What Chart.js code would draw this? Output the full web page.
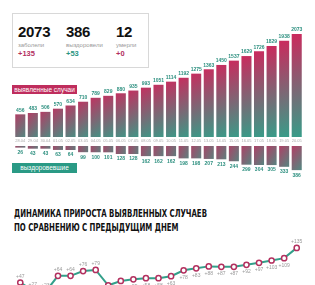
<!DOCTYPE html>
<html lang="ru">
<head>
<meta charset="UTF-8">
<title>Covid</title>
<script src="https://cdn.jsdelivr.net/npm/chart.js@4.4.0/dist/chart.umd.min.js"></script>
<style>
  body { margin:0; width:315px; height:285px; overflow:hidden; background:#fff; position:relative; font-family:"Liberation Sans", Arial, sans-serif; }
  canvas { position:absolute; left:0; }
  .card { position:absolute; left:12px; top:13px; width:135px; height:53px; border:1px solid #d8d8d8; }
  .num { position:absolute; top:9px; font-size:15px; font-weight:bold; color:#111; letter-spacing:-0.3px; }
  .lbl { position:absolute; top:28px; font-size:6px; color:#999; }
  .dlt { position:absolute; top:35px; font-size:7.5px; font-weight:bold; }
  .tag { position:absolute; left:12px; width:65px; color:#fff; font-size:6.5px; text-align:center; }
  .title { position:absolute; left:14px; top:207px; white-space:nowrap; font-family:"DejaVu Sans Condensed","Liberation Sans Narrow",sans-serif; font-weight:bold; font-size:10px; line-height:14px; color:#111; transform:scaleX(0.775); transform-origin:left top; }
</style>
</head>
<body>
<div class="card">
  <div class="num" style="left:5px">2073</div>
  <div class="lbl" style="left:5px">заболели</div>
  <div class="dlt" style="left:5px;color:#b3305f">+135</div>
  <div class="num" style="left:53px">386</div>
  <div class="lbl" style="left:53px">выздоровели</div>
  <div class="dlt" style="left:53px;color:#2a9582">+53</div>
  <div class="num" style="left:103px">12</div>
  <div class="lbl" style="left:103px">умерли</div>
  <div class="dlt" style="left:103px;color:#b3305f">+0</div>
</div>

<canvas id="casesChart" width="315" height="130" style="top:20px"></canvas>
<canvas id="recChart" width="315" height="40" style="top:144px"></canvas>

<div class="tag" style="top:85px;height:9px;line-height:9px;background:#bf2d5d">выявленные случаи</div>
<div class="tag" style="top:163px;height:10px;line-height:10px;background:#2a9a85">выздоровевшие</div>

<div class="title">ДИНАМИКА ПРИРОСТА ВЫЯВЛЕННЫХ СЛУЧАЕВ<br>ПО СРАВНЕНИЮ С ПРЕДЫДУЩИМ ДНЕМ</div>

<canvas id="growthChart" width="315" height="90" style="top:232px"></canvas>

<script>
const dates = ["28.04","29.04","30.04","01.05","02.05","03.05","04.05","05.05","06.05","07.05","08.05","09.05",
  "10.05","11.05","12.05","13.05","14.05","15.05","16.05","17.05","18.05","19.05","20.05"];
const cases = [456,483,506,570,634,710,789,829,880,935,993,1051,1114,1192,1275,1363,1450,1537,1629,1726,1829,1938,2073];
const recovered = [26,43,43,63,64,99,100,101,128,128,162,162,162,198,198,207,213,244,299,304,305,333,386];
const growth = [47,27,23,64,64,76,79,40,51,55,58,58,63,78,83,88,87,87,92,97,103,109,135];

const CRIMSON = "#c82c5e";
const TEAL = "#33a08a";
const LABEL_TEAL = "#2c8f7f";
const BAR_PCT = 0.8;

// diagonal gradient for each bar, top-left crimson -> bottom-right teal
function barGradient(ctx) {
  const chart = ctx.chart;
  if (!chart.chartArea || ctx.dataIndex === undefined) return CRIMSON;
  const xs = chart.scales.x, ys = chart.scales.y;
  const x = xs.getPixelForValue(ctx.dataIndex);
  const w = (xs.width / xs.ticks.length) * BAR_PCT;
  const p1 = ys.getPixelForValue(0), p2 = ys.getPixelForValue(ctx.raw);
  const top = Math.min(p1, p2), bot = Math.max(p1, p2);
  const g = chart.ctx.createLinearGradient(x - w / 2, top, x + w / 2, bot);
  g.addColorStop(0.05, CRIMSON);
  g.addColorStop(1, TEAL);
  return g;
}

const barLabels = {
  id: 'barLabels',
  afterDatasetsDraw(chart, args, opts) {
    const c = chart.ctx;
    const meta = chart.getDatasetMeta(0);
    c.save();
    c.textAlign = 'center';
    c.textBaseline = 'middle';
    meta.data.forEach((el, i) => {
      c.fillStyle = LABEL_TEAL;
      c.font = 'bold 5px "Liberation Sans", Arial';
      const v = chart.data.datasets[0].data[i];
      if (opts.below) c.fillText(v, el.x, el.y + 5);
      else c.fillText(v, el.x, el.y - 4);
      if (opts.dates) {
        c.fillStyle = '#aaa';
        c.font = '4px "Liberation Sans", Arial';
        c.fillText(chart.data.labels[i], el.x, chart.chartArea.bottom + 4);
      }
    });
    c.restore();
  }
};

const pointLabels = {
  id: 'pointLabels',
  afterDatasetsDraw(chart) {
    const c = chart.ctx;
    const meta = chart.getDatasetMeta(0);
    const n = meta.data.length;
    c.save();
    c.textAlign = 'center';
    c.textBaseline = 'middle';
    c.fillStyle = '#999';
    c.font = '5px "Liberation Sans", Arial';
    meta.data.forEach((el, i) => {
      const above = i < 7 || i === n - 1;
      c.fillText('+' + growth[i], el.x, above ? el.y - 6 : el.y + 7);
    });
    c.restore();
  }
};

Chart.defaults.animation = false;

new Chart("casesChart", {
  type: "bar",
  data: { labels: dates, datasets: [{ data: cases, backgroundColor: barGradient, barPercentage: BAR_PCT, categoryPercentage: 1 }] },
  options: {
    responsive: false,
    layout: { padding: { left: 14, right: 12, top: 14, bottom: 13 } },
    plugins: { legend: { display: false }, tooltip: { enabled: false }, barLabels: { dates: true } },
    scales: {
      x: { display: false },
      y: { display: false, min: 0, max: Math.max(...cases) }
    }
  },
  plugins: [barLabels]
});

new Chart("recChart", {
  type: "bar",
  data: { labels: dates, datasets: [{ data: recovered, backgroundColor: barGradient, barPercentage: BAR_PCT, categoryPercentage: 1 }] },
  options: {
    responsive: false,
    layout: { padding: { left: 14, right: 12, top: 2, bottom: 8 } },
    plugins: { legend: { display: false }, tooltip: { enabled: false }, barLabels: { below: true } },
    scales: {
      x: { display: false },
      y: { display: false, reverse: true, min: 0, max: 480 }
    }
  },
  plugins: [barLabels]
});

new Chart("growthChart", {
  type: "line",
  data: { labels: dates, datasets: [{
    data: growth, borderColor: TEAL, borderWidth: 2, tension: 0,
    pointRadius: 2.6, pointBorderWidth: 1.5, pointBackgroundColor: "#fff", pointBorderColor: "#b3305f"
  }] },
  options: {
    responsive: false,
    layout: { padding: { left: 14, right: 12, top: 10, bottom: 21 } },
    plugins: { legend: { display: false }, tooltip: { enabled: false } },
    scales: {
      x: { display: false, offset: true },
      y: { display: false, min: 0, max: 150 }
    }
  },
  plugins: [pointLabels]
});
</script>
</body>
</html>
